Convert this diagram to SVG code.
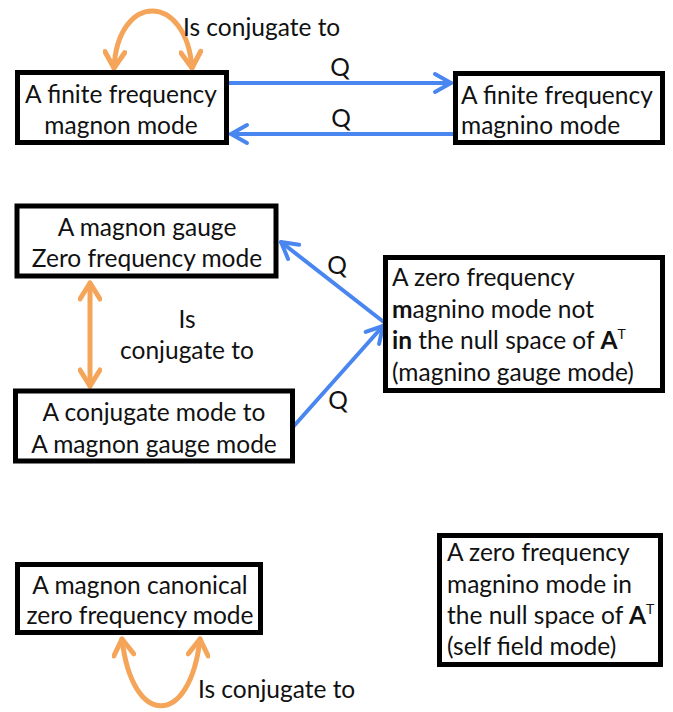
<svg xmlns="http://www.w3.org/2000/svg" width="673" height="712" viewBox="0 0 673 712">
<style>
text{font-family:Lato,"Open Sans","Liberation Sans",sans-serif;font-size:24.5px;fill:#111}
.c{text-anchor:middle}
.box{fill:#fff;stroke:#000;stroke-width:5}
.blue{fill:none;stroke:#4a86f0;stroke-width:4;stroke-linecap:round}
.orange{fill:none;stroke:#f5a55a;stroke-width:5;stroke-linecap:round}
.b{font-weight:bold}
.sup{font-size:14px}
</style>
<defs>
<marker id="ab" viewBox="0 0 24 24" refX="20" refY="12" markerWidth="24" markerHeight="24" markerUnits="userSpaceOnUse" orient="auto-start-reverse">
<path d="M4,3 L20,12 L4,21" fill="none" stroke="#4a86f0" stroke-width="4" stroke-linecap="round" stroke-linejoin="round"/>
</marker>
<marker id="ao" viewBox="0 0 24 24" refX="20" refY="12" markerWidth="24" markerHeight="24" markerUnits="userSpaceOnUse" orient="auto-start-reverse">
<path d="M4,2 L20,12 L4,22" fill="none" stroke="#f5a55a" stroke-width="5" stroke-linecap="round" stroke-linejoin="round"/>
</marker>
</defs>
<g id="connectors">
<path class="orange" d="M114,68 C118,-8 186,-8 192,68" marker-start="url(#ao)" marker-end="url(#ao)"/>
<path class="blue" d="M229,83 L451,83" marker-end="url(#ab)"/>
<path class="blue" d="M453,134 L231,134" marker-end="url(#ab)"/>
<path class="orange" d="M90,283 L90,386" marker-start="url(#ao)" marker-end="url(#ao)"/>
<path class="blue" d="M385,323 L281,242" marker-end="url(#ab)"/>
<path class="blue" d="M293,427 L383,326" marker-end="url(#ab)"/>
<path class="orange" d="M122,639 C132,728 190,728 200,639" marker-start="url(#ao)" marker-end="url(#ao)"/>
<text x="183" y="36">Is conjugate to</text>
<text x="340" y="76" class="c">Q</text>
<text x="341" y="127" class="c">Q</text>
<text x="187" y="328" class="c">Is</text>
<text x="187" y="359" class="c">conjugate to</text>
<text x="337" y="274" class="c">Q</text>
<text x="338" y="409" class="c">Q</text>
<text x="198" y="698">Is conjugate to</text>
</g>
<g id="n1">
<rect class="box" x="17.5" y="72.5" width="209" height="70"/>
<text x="121" y="103" class="c">A finite frequency</text>
<text x="121" y="134" class="c">magnon mode</text>
</g>
<g id="n2">
<rect class="box" x="455.5" y="73.5" width="207" height="69"/>
<text x="461" y="104">A finite frequency</text>
<text x="461" y="134">magnino mode</text>
</g>
<g id="n3">
<rect class="box" x="17" y="206" width="259" height="70"/>
<text x="147" y="236" class="c">A magnon gauge</text>
<text x="147" y="267" class="c">Zero frequency mode</text>
</g>
<g id="n4">
<rect class="box" x="15.5" y="391" width="277" height="70"/>
<text x="154" y="421" class="c">A conjugate mode to</text>
<text x="154" y="453" class="c">A magnon gauge mode</text>
</g>
<g id="n5">
<rect class="box" x="385.5" y="257.5" width="277" height="133"/>
<text x="392" y="286">A zero frequency</text>
<text x="392" y="318"><tspan class="b">m</tspan>agnino mode not</text>
<text x="392" y="349"><tspan class="b">in</tspan> the null space of <tspan class="b">A</tspan><tspan class="sup" dy="-10">T</tspan></text>
<text x="392" y="381">(magnino gauge mode)</text>
</g>
<g id="n6">
<rect class="box" x="17.5" y="564.5" width="243" height="68"/>
<text x="140" y="594" class="c">A magnon canonical</text>
<text x="140" y="624" class="c">zero frequency mode</text>
</g>
<g id="n7">
<rect class="box" x="439.5" y="535.5" width="221" height="129"/>
<text x="447" y="561">A zero frequency</text>
<text x="447" y="593">magnino mode in</text>
<text x="447" y="624">the null space of <tspan class="b">A</tspan><tspan class="sup" dy="-10">T</tspan></text>
<text x="447" y="655">(self field mode)</text>
</g>
</svg>
